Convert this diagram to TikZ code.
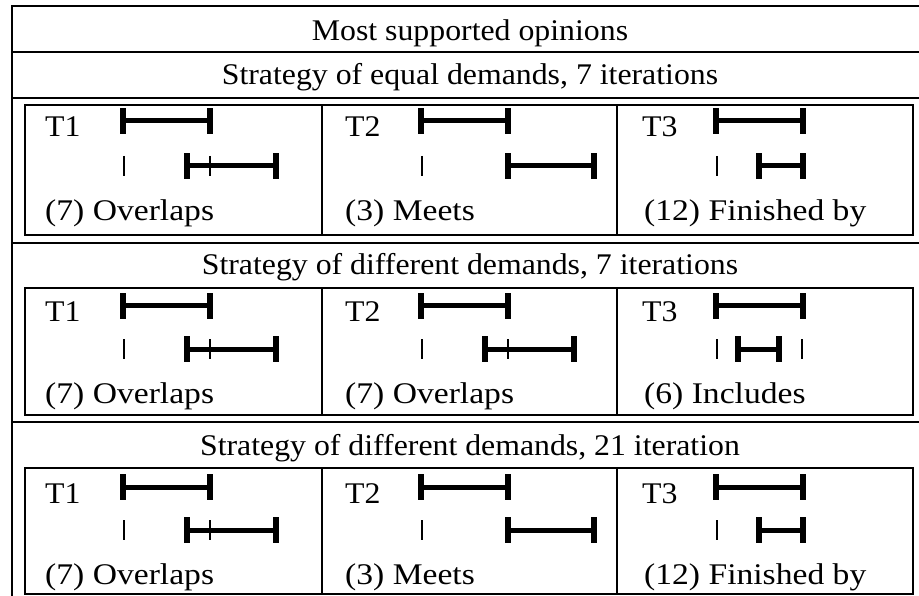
\documentclass[tikz,border=0pt]{standalone}
\usepackage{fontspec}
\setmainfont{Liberation Serif}
\tikzset{
  frame/.style={line width=2.6pt},
  pbox/.style={line width=2.3pt},
  ibar/.style={line width=5pt},
  thintick/.style={line width=1.9pt},
  lbl/.style={inner sep=0pt, anchor=base west, font=\fontsize{30}{33}\selectfont},
  hdr/.style={inner sep=0pt, anchor=base, font=\fontsize{30}{33}\selectfont},
}
\newcommand\stx[1]{\scalebox{1.06}[1]{#1}}
\newcommand\cpx[1]{\scalebox{1.12}[1]{#1}}
% interval: x1, x2, y
\newcommand\myivl[3]{%
  \draw[ibar] (#1,#3) -- (#2,#3);
  \fill (#1-3,#3-13) rectangle (#1+3,#3+13);
  \fill (#2-3,#3-13) rectangle (#2+3,#3+13);
}
% thin tick: x, y
\newcommand\mytk[2]{\draw[thintick] (#1,#2-10) -- (#1,#2+10);}
% relation drawings: start S, row1 y, row2 y
\newcommand\relOverlaps[3]{\myivl{#1}{#1+87}{#2}\mytk{#1+1}{#3}\myivl{#1+64}{#1+153}{#3}\mytk{#1+87}{#3}}
\newcommand\relMeets[3]{\myivl{#1}{#1+87}{#2}\mytk{#1+1}{#3}\myivl{#1+87}{#1+173}{#3}}
\newcommand\relFinBy[3]{\myivl{#1}{#1+87}{#2}\mytk{#1+1}{#3}\myivl{#1+43}{#1+87}{#3}}
\newcommand\relIncl[3]{\myivl{#1}{#1+87}{#2}\mytk{#1+1}{#3}\myivl{#1+22}{#1+63}{#3}\mytk{#1+86}{#3}}
\begin{document}
\begin{tikzpicture}[x=1pt,y=-1pt]
\useasboundingbox (0,0) rectangle (919,596);
\clip (0,0) rectangle (919,596);
% outer frame and row separators
\draw[frame] (12,600) -- (12,6) -- (930,6);
\draw[frame] (12,52) -- (930,52);
\draw[frame] (12,98) -- (930,98);
\draw[frame] (12,243) -- (930,243);
\draw[frame] (12,422) -- (930,422);
% headers
\node[hdr] (h0) at (470,41) {\stx{Most supported opinions}};
\node[hdr] (h1) at (470,85) {\stx{Strategy of equal demands, 7 iterations}};
\node[hdr] (h2) at (470,275) {\stx{Strategy of different demands, 7 iterations}};
\node[hdr] (h3) at (470,455) {\stx{Strategy of different demands, 21 iteration}};
% panel boxes
\foreach \t/\b in {105/235, 288/415, 468/594}{
  \draw[pbox] (25,\t) rectangle (913,\b);
  \draw[pbox] (322,\t) -- (322,\b);
  \draw[pbox] (617,\t) -- (617,\b);
}
% section 1
\node[lbl] (a1) at (45,137) {\stx{T1}};
\node[lbl] (a2) at (345,137) {\stx{T2}};
\node[lbl] (a3) at (642,137) {\stx{T3}};
\relOverlaps{123}{121}{166}
\relMeets{421}{121}{166}
\relFinBy{716}{121}{166}
\node[lbl] (c1) at (45,221) {\cpx{(7) Overlaps}};
\node[lbl] (c2) at (345,221) {\cpx{(3) Meets}};
\node[lbl] (c3) at (644,221) {\cpx{(12) Finished by}};
% section 2
\node[lbl] (b1) at (45,322) {\stx{T1}};
\node[lbl] (b2) at (345,322) {\stx{T2}};
\node[lbl] (b3) at (642,322) {\stx{T3}};
\relOverlaps{123}{306}{349}
\relOverlaps{421}{306}{349}
\relIncl{716}{306}{349}
\node[lbl] (d1) at (45,403) {\cpx{(7) Overlaps}};
\node[lbl] (d2) at (345,403) {\cpx{(7) Overlaps}};
\node[lbl] (d3) at (644,403) {\cpx{(6) Includes}};
% section 3
\node[lbl] (e1) at (45,503) {\stx{T1}};
\node[lbl] (e2) at (345,503) {\stx{T2}};
\node[lbl] (e3) at (642,503) {\stx{T3}};
\relOverlaps{123}{487}{530}
\relMeets{421}{487}{530}
\relFinBy{716}{487}{530}
\node[lbl] (f1) at (45,584) {\cpx{(7) Overlaps}};
\node[lbl] (f2) at (345,584) {\cpx{(3) Meets}};
\node[lbl] (f3) at (644,584) {\cpx{(12) Finished by}};
\end{tikzpicture}
\end{document}
